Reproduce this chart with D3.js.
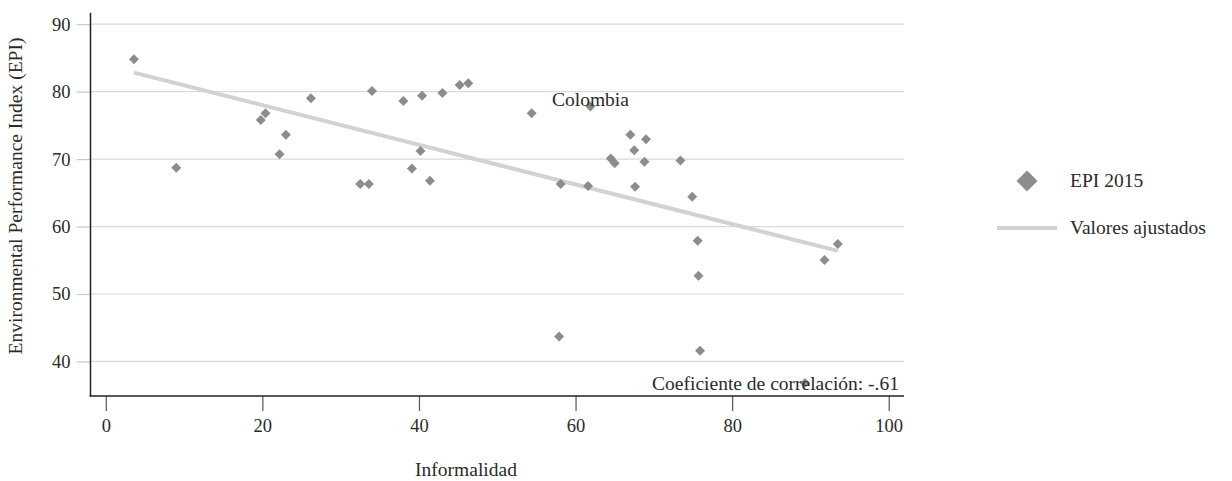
<!DOCTYPE html>
<html><head><meta charset="utf-8">
<script src="https://cdn.jsdelivr.net/npm/d3@7"></script>
<style>
html,body{margin:0;padding:0;background:#fff;}
svg{display:block;font-family:"Liberation Serif","DejaVu Serif",serif;}
</style></head>
<body><svg id="c" width="1232" height="481"></svg>
<script>
// Data: informality (x) and EPI 2015 (y)
const informalidad = [3.6, 9.0, 19.8, 20.4, 23.0, 22.2, 26.2, 32.5, 33.6, 34.0, 38.0, 40.4, 40.2, 39.1, 41.4, 43.0, 45.2, 46.3,
  54.4, 61.9, 67.0, 69.0, 67.5, 64.5, 65.0, 68.8, 73.4, 58.1, 61.6, 67.6, 74.9, 75.6, 75.7, 91.8, 93.5, 57.9, 75.9, 89.3];
const epi2015 = [84.8, 68.7, 75.8, 76.8, 73.6, 70.7, 79.0, 66.3, 66.3, 80.1, 78.6, 79.4, 71.2, 68.6, 66.8, 79.8, 81.0, 81.25,
  76.8, 77.8, 73.6, 72.95, 71.3, 70.1, 69.4, 69.6, 69.8, 66.3, 66.0, 65.9, 64.4, 57.9, 52.7, 55.05, 57.4, 43.7, 41.6, 36.8];
const labelIndex = 19; const labelText = "Colombia";
const xTicks = [0, 20, 40, 60, 80, 100];
const yTicks = [40, 50, 60, 70, 80, 90];
const xTitle = "Informalidad";
const yTitle = "Environmental Performance Index (EPI)";
const legendLabels = ["EPI 2015", "Valores ajustados"];
const noteText = "Coeficiente de correlación: -.61";

const svg = d3.select("#c");
const L = 90.5, R = 904, T = 12.7, B = 396;
const x = d3.scaleLinear().domain([-1.95, 101.95]).range([L, R]);
const y = d3.scaleLinear().domain([34.88, 91.7]).range([B, T]);
const fs = 19.5, tfs = 18.5, tc = "#2a2a2a";

// gridlines
svg.append("g").selectAll("line").data(yTicks).join("line")
  .attr("x1", L).attr("x2", R).attr("y1", d => y(d)).attr("y2", d => y(d))
  .attr("stroke", "#dadada").attr("stroke-width", 1.2);

// y axis
const ya = svg.append("g").attr("transform", `translate(${L},0)`)
  .call(d3.axisLeft(y).tickValues(yTicks).tickSize(14).tickPadding(6).tickFormat(d3.format("d")));
ya.select(".domain").remove();
ya.selectAll(".tick line").attr("stroke", "#c8c8c8").attr("stroke-width", 1.2);
ya.selectAll(".tick text").attr("font-size", tfs).attr("fill", tc).attr("font-family", "Liberation Serif");

// x axis
const xa = svg.append("g").attr("transform", `translate(0,${B})`)
  .call(d3.axisBottom(x).tickValues(xTicks).tickSize(15).tickPadding(8).tickFormat(d3.format("d")));
xa.select(".domain").remove();
xa.selectAll(".tick line").attr("stroke", "#555").attr("stroke-width", 1.2);
xa.selectAll(".tick text").attr("font-size", tfs).attr("fill", tc).attr("font-family", "Liberation Serif");

// axis lines
svg.append("line").attr("x1", L).attr("x2", L).attr("y1", T).attr("y2", B + 0.7).attr("stroke", "#222").attr("stroke-width", 1.5);
svg.append("line").attr("x1", L - 0.7).attr("x2", R).attr("y1", B).attr("y2", B).attr("stroke", "#222").attr("stroke-width", 1.5);

// OLS fitted line
const n = informalidad.length;
const mx = d3.mean(informalidad), my = d3.mean(epi2015);
let sxy = 0, sxx = 0;
for (let i = 0; i < n; i++) { sxy += (informalidad[i] - mx) * (epi2015[i] - my); sxx += (informalidad[i] - mx) ** 2; }
const b = sxy / sxx, a = my - b * mx;
const xr = d3.extent(informalidad);
svg.append("path").datum(xr)
  .attr("d", d3.line().x(d => x(d)).y(d => y(a + b * d)))
  .attr("stroke", "#d2d2d2").attr("stroke-width", 4).attr("fill", "none");

// diamonds
const diamond = s => `M0,${-s}L${s},0L0,${s}L${-s},0Z`;
svg.append("g").selectAll("path").data(informalidad.map((v, i) => [v, epi2015[i]])).join("path")
  .attr("d", diamond(5)).attr("transform", d => `translate(${x(d[0])},${y(d[1])})`)
  .attr("fill", "#8c8c8c");

// Colombia label
svg.append("text").attr("x", x(informalidad[labelIndex])).attr("y", y(epi2015[labelIndex]) - 0.5)
  .attr("text-anchor", "middle").attr("font-size", fs).attr("fill", tc).text(labelText);

// note
svg.append("text").attr("x", 899).attr("y", 389.5).attr("text-anchor", "end")
  .attr("font-size", fs).attr("fill", tc).text(noteText);

// axis titles
svg.append("text").attr("x", 466).attr("y", 476).attr("text-anchor", "middle")
  .attr("font-size", fs).attr("fill", tc).text(xTitle);
svg.append("text").attr("transform", `translate(22,196) rotate(-90)`).attr("text-anchor", "middle")
  .attr("font-size", fs).attr("fill", tc).text(yTitle);

// legend
svg.append("path").attr("d", diamond(10.5)).attr("transform", "translate(1027,181)").attr("fill", "#8c8c8c");
svg.append("text").attr("x", 1070).attr("y", 187).attr("font-size", fs).attr("fill", tc).text(legendLabels[0]);
svg.append("line").attr("x1", 997).attr("x2", 1057).attr("y1", 228).attr("y2", 228).attr("stroke", "#d2d2d2").attr("stroke-width", 4);
svg.append("text").attr("x", 1070).attr("y", 234).attr("font-size", fs).attr("fill", tc).text(legendLabels[1]);
</script></body></html>
